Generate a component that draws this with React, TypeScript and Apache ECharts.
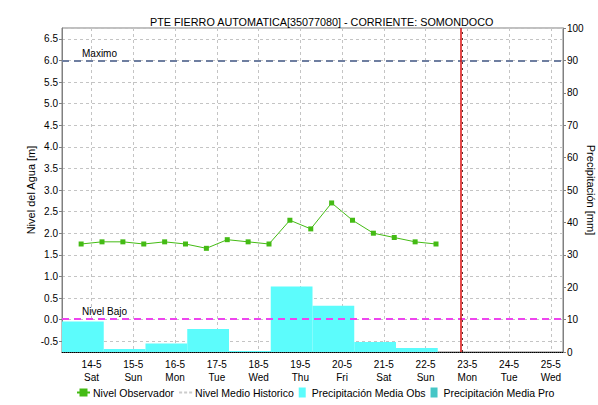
import React, { useEffect, useRef } from "react";
import * as echarts from "echarts";

// X values are hours counted from 14-5 00:00
const dayLabels = ["14-5", "15-5", "16-5", "17-5", "18-5", "19-5", "20-5", "21-5", "22-5", "23-5", "24-5", "25-5"];
const weekdays = ["Sat", "Sun", "Mon", "Tue", "Wed", "Thu", "Fri", "Sat", "Sun", "Mon", "Tue", "Wed"];

const levelHours = [-6, 6, 18, 30, 42, 54, 66, 78, 90, 102, 114, 126, 138, 150, 162, 174, 186, 198];
const levelValues = [1.75, 1.8, 1.8, 1.75, 1.8, 1.75, 1.65, 1.85, 1.8, 1.75, 2.3, 2.1, 2.7, 2.3, 2.0, 1.9, 1.8, 1.75];

const precipStartHours = [-17, 7, 31, 55, 79, 103, 127, 151, 175];
const precipEndHours = [7, 31, 55, 79, 103, 127, 151, 175, 199];
const precipObs = [9.4, 0.9, 2.6, 7.1, 0.3, 20.2, 14.3, 3.1, 1.2];

const xMinHour = -17;
const xMaxHour = 271;
const nowHour = 212.5;
const nivelMaximo = 6.0;
const nivelBajo = 0.03;

const levelTicks = [-0.5, 0, 0.5, 1, 1.5, 2, 2.5, 3, 3.5, 4, 4.5, 5, 5.5, 6, 6.5];

const FONT = "'Liberation Sans', Arial, sans-serif";

export default function App() {
  const ref = useRef<HTMLDivElement>(null);
  useEffect(() => {
    if (!ref.current) return;
    const chart = echarts.init(ref.current, undefined, { renderer: "svg" });
    const obsData = precipStartHours.map((s, i) => [s, precipEndHours[i], precipObs[i]]);
    const option: any = {
      animation: false,
      backgroundColor: "#ffffff",
      textStyle: { fontFamily: FONT },
      title: {
        text: "PTE FIERRO AUTOMATICA[35077080] - CORRIENTE: SOMONDOCO",
        left: 145,
        top: 11,
        textStyle: { fontSize: 10.8, fontWeight: "normal", color: "#000", fontFamily: FONT },
      },
      grid: {
        left: 62,
        right: 35,
        top: 28,
        bottom: 53,
        show: true,
        borderColor: "#808080",
        borderWidth: 1,
        backgroundColor: "transparent",
        containLabel: false,
        outerBoundsMode: "none",
      },
      legend: {
        bottom: 2,
        left: 71,
        itemGap: 5,
        itemWidth: 13,
        itemHeight: 10,
        textStyle: { fontSize: 10.5, color: "#000", fontFamily: FONT, padding: [0, 0, 0, -2] },
        data: [
          { name: "Nivel Observador" },
          {
            name: "Nivel Medio Historico",
            icon: "path://M0,4h3v2h-3z M5,4h3v2h-3z M10,4h3v2h-3z",
            itemStyle: { color: "#cccccc" },
          },
          { name: "Precipitación Media Obs", icon: "path://M0,0h7v10h-7z" },
          { name: "Precipitación Media Pro", icon: "path://M0,0h7v10h-7z" },
        ],
      },
      xAxis: {
        type: "value",
        min: xMinHour,
        max: xMaxHour,
        splitNumber: 12,
        minInterval: 24,
        maxInterval: 24,
        axisLine: { show: true, onZero: false, lineStyle: { color: "#000", type: "dotted", width: 1 } },
        axisTick: { show: false },
        splitLine: { show: true, lineStyle: { color: "#c4c4c4", type: [3, 3] } },
        axisLabel: {
          showMinLabel: false,
          showMaxLabel: false,
          color: "#000",
          fontSize: 10,
          lineHeight: 13,
          fontFamily: FONT,
          margin: 6,
          formatter: (v: number) => {
            const i = v / 24;
            if (Number.isInteger(i) && i >= 0 && i < dayLabels.length) return dayLabels[i] + "\n" + weekdays[i];
            return "";
          },
        },
      },
      yAxis: [
        {
          type: "value",
          min: -0.75,
          max: 6.75,
          splitNumber: 15,
          minInterval: 0.5,
          maxInterval: 0.5,
          name: "Nivel del Agua [m]",
          nameLocation: "middle",
          nameGap: 26,
          nameMoveOverlap: false,
          nameTextStyle: { fontSize: 11, color: "#000", fontFamily: FONT },
          axisLine: { show: true, onZero: false, lineStyle: { color: "#808080" } },
          axisTick: { show: true, length: 3, lineStyle: { color: "#808080" } },
          splitLine: { show: true, lineStyle: { color: "#c4c4c4", type: [3, 3] } },
          axisLabel: {
            showMinLabel: false,
            showMaxLabel: false,
            color: "#000",
            fontSize: 10,
            fontFamily: FONT,
            margin: 4,
            formatter: (v: number) => {
              const hit = levelTicks.some((t) => Math.abs(t - v) < 1e-6);
              return hit ? v.toFixed(1) : "";
            },
          },
        },
        {
          type: "value",
          min: 0,
          max: 100,
          interval: 10,
          position: "right",
          name: "Precipitación [mm]",
          nameLocation: "middle",
          nameGap: 22,
          nameMoveOverlap: false,
          nameRotate: -90,
          nameTextStyle: { fontSize: 11, color: "#000", fontFamily: FONT },
          axisLine: { show: true, onZero: false, lineStyle: { color: "#808080" } },
          axisTick: { show: true, length: 3, lineStyle: { color: "#808080" } },
          splitLine: { show: false },
          axisLabel: { color: "#000", fontSize: 10, fontFamily: FONT, margin: 4 },
        },
      ],
      series: [
        {
          name: "Precipitación Media Obs",
          type: "custom",
          yAxisIndex: 1,
          z: 1,
          itemStyle: { color: "#5cfcfc" },
          encode: { x: [0, 1], y: 2 },
          data: obsData,
          renderItem: (params: any, api: any) => {
            const p0 = api.coord([api.value(0), 0]);
            const p1 = api.coord([api.value(1), api.value(2)]);
            return {
              type: "rect",
              shape: { x: p0[0], y: p1[1], width: p1[0] - p0[0], height: p0[1] - p1[1] },
              style: { fill: "#5cfcfc" },
            };
          },
        },
        {
          name: "Precipitación Media Pro",
          type: "custom",
          yAxisIndex: 1,
          itemStyle: { color: "#45c6c6" },
          data: [],
          renderItem: () => null,
        },
        {
          name: "Nivel Medio Historico",
          type: "line",
          data: [],
          itemStyle: { color: "#cccccc" },
          lineStyle: { color: "#cccccc", type: [3, 3], width: 2 },
          symbol: "none",
        },
        {
          name: "Nivel Observador",
          type: "line",
          z: 5,
          data: levelHours.map((h, i) => [h, levelValues[i]]),
          itemStyle: { color: "#44bb14" },
          lineStyle: { color: "#44bb14", width: 1 },
          symbol: "rect",
          symbolSize: 5,
          markLine: {
            silent: true,
            symbol: "none",
            animation: false,
            data: [
              {
                yAxis: nivelMaximo,
                lineStyle: { color: "#6e7ea0", type: [7, 5], width: 2 },
                label: {
                  show: true,
                  formatter: "Maximo",
                  position: "insideStartTop",
                  distance: [20, 2],
                  color: "#000",
                  fontSize: 10,
                  fontFamily: FONT,
                },
              },
              {
                yAxis: nivelBajo,
                lineStyle: { color: "#ee44ee", type: [7, 5], width: 2 },
                label: {
                  show: true,
                  formatter: "Nivel Bajo",
                  position: "insideStartTop",
                  distance: [20, 2],
                  color: "#000",
                  fontSize: 10,
                  fontFamily: FONT,
                },
              },
              {
                xAxis: nowHour,
                lineStyle: { color: "#dd1111", type: "solid", width: 1.5 },
                label: { show: false },
              },
              {
                xAxis: nowHour + 0.6,
                lineStyle: { color: "#553333", type: [2, 4], width: 1 },
                label: { show: false },
              },
            ],
          },
        },
      ],
    };
    chart.setOption(option);
    return () => chart.dispose();
  }, []);
  return <div ref={ref} style={{ position: "fixed", left: 0, top: 0, width: 598, height: 405 }} />;
}
